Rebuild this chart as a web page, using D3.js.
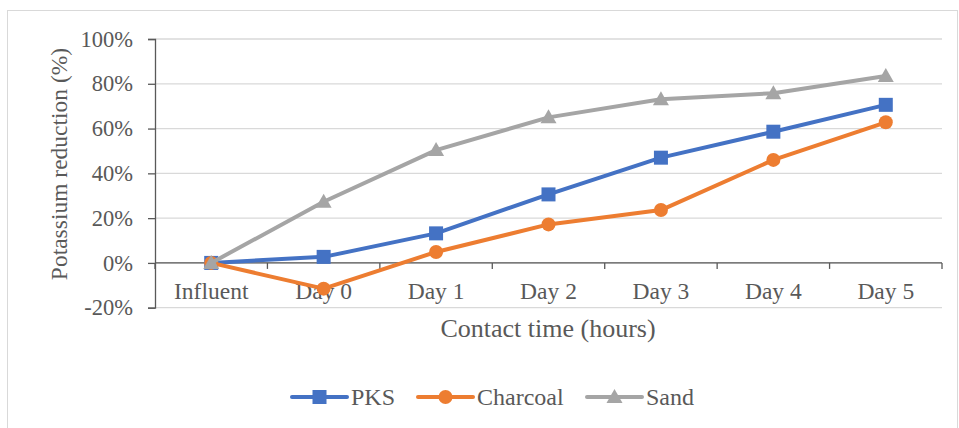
<!DOCTYPE html>
<html><head><meta charset="utf-8">
<script src="https://cdn.jsdelivr.net/npm/d3@7"></script>
<style>body{margin:0;background:#fff}svg{display:block}</style>
</head><body><svg id="c" width="959" height="428"></svg>
<script>
const categories = ["Influent","Day 0","Day 1","Day 2","Day 3","Day 4","Day 5"];
const pks = [0, 0.027, 0.132, 0.306, 0.470, 0.586, 0.706];
const charcoal = [0, -0.115, 0.049, 0.172, 0.236, 0.460, 0.628];
const sand = [0, 0.273, 0.504, 0.650, 0.731, 0.758, 0.835];
const yTicks = [-0.2, 0, 0.2, 0.4, 0.6, 0.8, 1.0];
const yTickLabels = ["-20%","0%","20%","40%","60%","80%","100%"];
const seriesNames = ["PKS","Charcoal","Sand"];
const colors = ["#4472C4","#ED7D31","#A5A5A5"];
const shapes = ["square","circle","triangle"];

const FONT = "'Liberation Serif', 'Times New Roman', 'DejaVu Serif', serif";
const svg = d3.select("#c");
svg.append("rect").attr("x",7.5).attr("y",10.5).attr("width",950).attr("height",430)
  .attr("fill","none").attr("stroke","#D9D9D9");

const L=155, R=942, T=39, B=307.7;
const x = d3.scaleBand().domain(categories).range([L,R]);
const y = d3.scaleLinear().domain([-0.2,1.0]).range([B,T]);

function txt(sel, size){ return sel.style("font-family",FONT).style("font-size",size+"px").style("fill","#595959"); }

// gridlines
svg.append("g").selectAll("line").data(yTicks).join("line")
  .attr("x1",L).attr("x2",R).attr("y1",d=>y(d)).attr("y2",d=>y(d))
  .attr("stroke","#D9D9D9").attr("stroke-width",1.3);

// y axis
const ya = svg.append("g").attr("transform",`translate(${L},0)`)
  .call(d3.axisLeft(y).tickValues(yTicks).tickFormat((d,i)=>yTickLabels[i]).tickSize(7).tickPadding(15));
ya.select(".domain").attr("stroke","#595959").attr("stroke-width",1.3);
ya.selectAll(".tick line").attr("stroke","#595959").attr("stroke-width",1.3);
txt(ya.selectAll("text"), 22.5);

// x axis at 0
const xa = svg.append("g").attr("transform",`translate(0,${y(0)})`);
xa.append("line").attr("x1",L).attr("x2",R).attr("stroke","#595959").attr("stroke-width",1.3);
const bounds = categories.map(c=>x(c)).concat([R]);
xa.selectAll("line.tk").data(bounds).join("line").attr("class","tk")
  .attr("x1",d=>d).attr("x2",d=>d).attr("y1",0).attr("y2",6)
  .attr("stroke","#595959").attr("stroke-width",1.3);
txt(svg.append("g").selectAll("text").data(categories).join("text")
  .attr("x",d=>x(d)+x.bandwidth()/2).attr("y",298.5)
  .attr("text-anchor","middle").text(d=>d), 23.5);

// axis titles
txt(svg.append("text").attr("transform","translate(67,164) rotate(-90)")
  .attr("text-anchor","middle").text("Potassium reduction (%)"), 23.5);
txt(svg.append("text").attr("x",548).attr("y",337).attr("text-anchor","middle")
  .text("Contact time (hours)"), 26);

const series = [pks, charcoal, sand];
const line = d3.line().x((d,i)=>x(categories[i])+x.bandwidth()/2).y(d=>y(d));

function marker(g, shape, color, cx, cy){
  if(shape==="square") g.append("rect").attr("x",cx-7).attr("y",cy-7).attr("width",14).attr("height",14).attr("fill",color);
  else if(shape==="circle") g.append("circle").attr("cx",cx).attr("cy",cy).attr("r",7).attr("fill",color);
  else g.append("path").attr("d",`M${cx},${cy-8}L${cx+8},${cy+6}L${cx-8},${cy+6}Z`).attr("fill",color);
}

series.forEach((s,k)=>{
  const g = svg.append("g");
  g.append("path").datum(s).attr("d",line).attr("fill","none")
    .attr("stroke",colors[k]).attr("stroke-width",4).attr("stroke-linejoin","round").attr("stroke-linecap","round");
  s.forEach((v,i)=>marker(g, shapes[k], colors[k], x(categories[i])+x.bandwidth()/2, y(v)));
});

// legend
const legX = [292, 418, 587];
const legY = 397;
seriesNames.forEach((n,k)=>{
  const g = svg.append("g");
  g.append("line").attr("x1",legX[k]).attr("x2",legX[k]+55).attr("y1",legY).attr("y2",legY)
    .attr("stroke",colors[k]).attr("stroke-width",4).attr("stroke-linecap","round");
  marker(g, shapes[k], colors[k], legX[k]+27.5, legY);
  txt(g.append("text").attr("x",legX[k]+59).attr("y",legY+8).text(n), 24);
});
</script></body></html>
